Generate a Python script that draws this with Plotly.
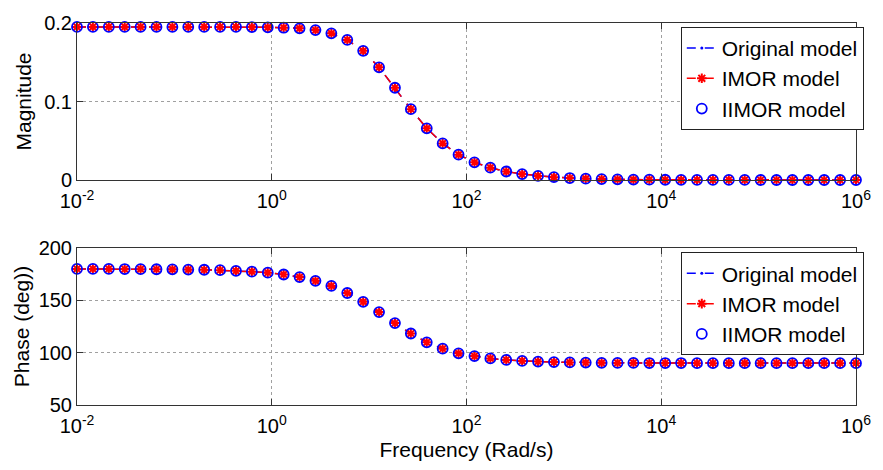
import plotly.graph_objects as go
from plotly.subplots import make_subplots

# Frequency grid (rad/s), 50 log-spaced samples from 1e-2 to 1e6
freq = [0.01, 0.01456, 0.02121, 0.03089, 0.04498, 0.06551, 0.09541, 0.1389,
        0.2024, 0.2947, 0.4292, 0.6251, 0.9103, 1.326, 1.931, 2.812, 4.095,
        5.964, 8.685, 12.65, 18.42, 26.83, 39.07, 56.90, 82.86, 120.7, 175.8,
        255.9, 372.8, 542.9, 790.6, 1151, 1677, 2442, 3556, 5179, 7543, 10985,
        15999, 23300, 33932, 49417, 71969, 104811, 152642, 222300, 323746,
        471487, 686649, 1000000]

# Magnitude response
magnitude = [0.195, 0.195, 0.195, 0.195, 0.195, 0.195, 0.195, 0.195, 0.195,
             0.195, 0.195, 0.1948, 0.1945, 0.1940, 0.1932, 0.1910, 0.1868,
             0.1785, 0.1645, 0.1435, 0.1175, 0.0902, 0.0658, 0.0466, 0.0323,
             0.0225, 0.0157, 0.0108, 0.0075, 0.0052, 0.0036, 0.0025, 0.0017,
             0.0012, 0.0008, 0.0005, 0.0004, 0.0003, 0.0002, 0.0001, 0.0001,
             0.0001, 0.0001, 0.0, 0.0, 0.0, 0.0, 0.0, 0.0, 0.0]

# Phase response (deg)
phase = [180.0, 180.0, 180.0, 179.9, 179.8, 179.7, 179.6, 179.4, 179.2, 178.8,
         178.2, 177.4, 176.4, 174.7, 172.2, 168.6, 163.8, 157.0, 148.6, 138.8,
         128.3, 118.3, 109.9, 103.8, 99.4, 96.7, 94.5, 93.1, 92.1, 91.5, 91.0,
         90.7, 90.5, 90.3, 90.2, 90.2, 90.1, 90.1, 90.1, 90.0, 90.0, 90.0,
         90.0, 90.0, 90.0, 90.0, 90.0, 90.0, 90.0, 90.0]

series_names = ["Original model", "IMOR model", "IIMOR model"]
x_tickvals = [1e-2, 1e0, 1e2, 1e4, 1e6]
x_ticktext = ["10<sup>-2</sup>", "10<sup>0</sup>", "10<sup>2</sup>",
              "10<sup>4</sup>", "10<sup>6</sup>"]

FONT = "Liberation Sans, Arial, sans-serif"
BLUE = "#0000ff"
RED = "#ff0000"

fig = make_subplots(rows=2, cols=1, vertical_spacing=0.178)


def add_model_traces(yvals, row, legend):
    # full-order model: blue dashed line with point markers
    fig.add_trace(go.Scatter(
        x=freq, y=yvals, name=series_names[0], mode="lines+markers",
        line=dict(color=BLUE, dash="dash", width=1.5),
        marker=dict(color=BLUE, size=3, symbol="circle"),
        cliponaxis=False, legend=legend), row=row, col=1)
    # IMOR: red dashed line with asterisks
    fig.add_trace(go.Scatter(
        x=freq, y=yvals, name=series_names[1], mode="lines+markers",
        line=dict(color=RED, dash="dash", width=1.5),
        marker=dict(symbol="asterisk-open", size=8, color=RED,
                    line=dict(color=RED, width=2)),
        cliponaxis=False, legend=legend), row=row, col=1)
    # IIMOR: blue open circles only
    fig.add_trace(go.Scatter(
        x=freq, y=yvals, name=series_names[2], mode="markers",
        marker=dict(symbol="circle-open", size=10, color=BLUE,
                    line=dict(color=BLUE, width=1.8)),
        cliponaxis=False, legend=legend), row=row, col=1)


add_model_traces(magnitude, 1, "legend")
add_model_traces(phase, 2, "legend2")

axis_common = dict(
    showline=True, linecolor="#333333", linewidth=1, mirror="ticks",
    ticks="inside", ticklen=6, tickcolor="#333333",
    showgrid=True, gridcolor="#a0a0a0", griddash="dot", gridwidth=1,
    zeroline=False, tickfont=dict(family=FONT, size=20, color="black"),
)

for r in (1, 2):
    fig.update_xaxes(type="log", range=[-2, 6], tickvals=x_tickvals,
                     ticktext=x_ticktext, ticklabelstandoff=3,
                     **axis_common, row=r, col=1)

fig.update_xaxes(title=dict(text="Frequency (Rad/s)", standoff=6,
                            font=dict(family=FONT, size=21, color="black")),
                 row=2, col=1)
fig.update_yaxes(range=[0, 0.2], tickvals=[0, 0.1, 0.2],
                 ticktext=["0", "0.1", "0.2"], **axis_common,
                 title=dict(text="Magnitude", standoff=6,
                            font=dict(family=FONT, size=21, color="black")),
                 row=1, col=1)
fig.update_yaxes(range=[50, 200], tickvals=[50, 100, 150, 200], **axis_common,
                 title=dict(text="Phase (deg))", standoff=3,
                            font=dict(family=FONT, size=21, color="black")),
                 row=2, col=1)

legend_style = dict(
    xanchor="right", yanchor="top", x=1.01,
    bgcolor="white", bordercolor="#222222", borderwidth=1,
    font=dict(family=FONT, size=21, color="black"),
    tracegroupgap=0, itemwidth=30,
)

fig.update_layout(
    width=883, height=470,
    margin=dict(l=77, r=15, t=17, b=62),
    paper_bgcolor="white", plot_bgcolor="white",
    font=dict(family=FONT, color="black"),
    showlegend=True,
    legend=dict(y=0.99, **legend_style),
    legend2=dict(y=0.40, **legend_style),
)
fig.update_yaxes(domain=[0.589, 1.0], row=1, col=1)
fig.update_yaxes(domain=[0.0, 0.411], row=2, col=1)

fig.write_html("out.html")
